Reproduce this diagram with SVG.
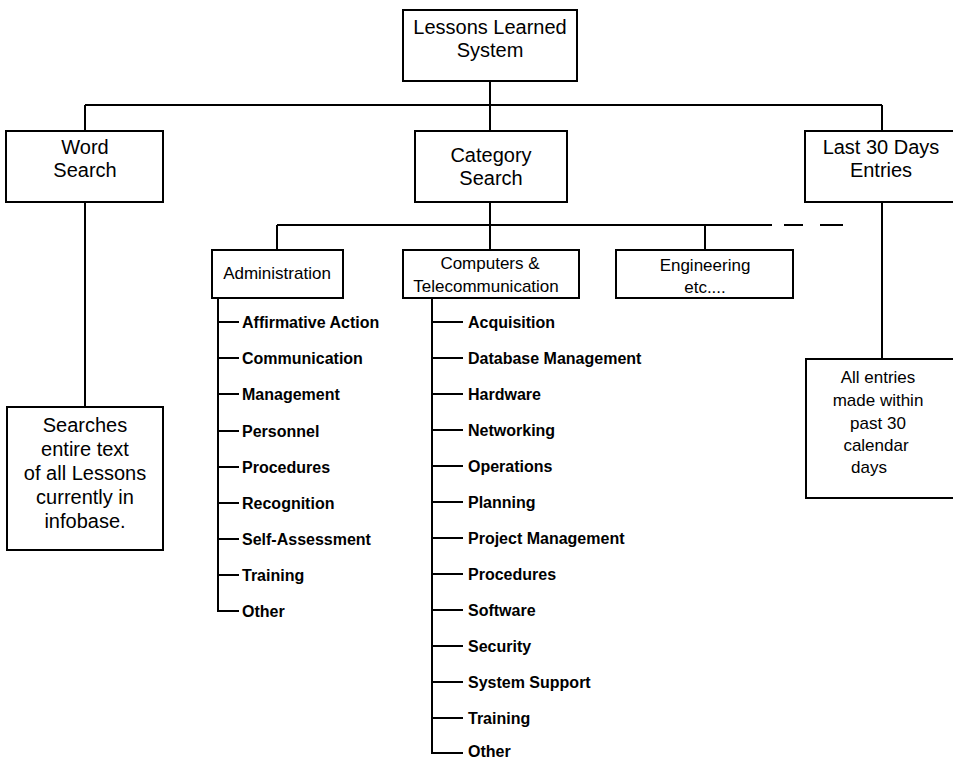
<svg xmlns="http://www.w3.org/2000/svg" width="953" height="761" viewBox="0 0 953 761">
<style>
.box{fill:#fff;stroke:#000;stroke-width:2}
.ln{fill:none;stroke:#000;stroke-width:2}
.t20{font-family:"Liberation Sans",Arial,sans-serif;font-size:20px;text-anchor:middle;fill:#000}
.t17{font-family:"Liberation Sans",Arial,sans-serif;font-size:17px;text-anchor:middle;fill:#000}
.it{font-family:"Liberation Sans",Arial,sans-serif;font-size:16px;font-weight:bold;fill:#000}
</style>
<rect width="953" height="761" fill="#fff"/>
<g id="connectors">
<path class="ln" d="M490 81V131M85 105H882M85 105V131M882 105V131"/>
<path class="ln" d="M85 202V407"/>
<path class="ln" d="M490 202V250M277 225H772M277 225V250M705 225V250"/>
<path class="ln" d="M784 225H803M820 225H843"/>
<path class="ln" d="M882 202V359"/>
<path class="ln" d="M218 298V611H239M218 322H239M218 358H239M218 394H239M218 431H239M218 467H239M218 503H239M218 539H239M218 575H239"/>
<path class="ln" d="M432 298V753H463M432 322H463M432 358H463M432 394H463M432 430H463M432 466H463M432 502H463M432 538H463M432 574H463M432 610H463M432 646H463M432 682H463M432 718H463"/>
</g>
<g id="lessons-learned-system">
<rect class="box" x="403" y="10" width="174" height="71"/>
<text class="t20" x="490" y="34">Lessons Learned</text>
<text class="t20" x="490" y="57">System</text>
</g>
<g id="word-search">
<rect class="box" x="6" y="131" width="157" height="71"/>
<text class="t20" x="85" y="154">Word</text>
<text class="t20" x="85" y="177">Search</text>
</g>
<g id="category-search">
<rect class="box" x="415" y="131" width="152" height="71"/>
<text class="t20" x="491" y="162">Category</text>
<text class="t20" x="491" y="185">Search</text>
</g>
<g id="last-30-days">
<rect class="box" x="805" y="131" width="160" height="71"/>
<text class="t20" x="881" y="154">Last 30 Days</text>
<text class="t20" x="881" y="177">Entries</text>
</g>
<g id="searches-text">
<rect class="box" x="7" y="407" width="156" height="143"/>
<text class="t20" x="85" y="432">Searches</text>
<text class="t20" x="85" y="456">entire text</text>
<text class="t20" x="85" y="480">of all Lessons</text>
<text class="t20" x="85" y="504">currently in</text>
<text class="t20" x="85" y="528">infobase.</text>
</g>
<g id="all-entries">
<rect class="box" x="806" y="359" width="160" height="139"/>
<text class="t17" x="878" y="383">All entries</text>
<text class="t17" x="878" y="406">made within</text>
<text class="t17" x="878" y="429">past 30</text>
<text class="t17" x="876" y="451">calendar</text>
<text class="t17" x="869" y="473">days</text>
</g>
<g id="administration">
<rect class="box" x="212" y="250" width="131" height="48"/>
<text class="t17" x="277" y="279">Administration</text>
<text class="it" x="242" y="328">Affirmative Action</text>
<text class="it" x="242" y="364">Communication</text>
<text class="it" x="242" y="400">Management</text>
<text class="it" x="242" y="437">Personnel</text>
<text class="it" x="242" y="473">Procedures</text>
<text class="it" x="242" y="509">Recognition</text>
<text class="it" x="242" y="545">Self-Assessment</text>
<text class="it" x="242" y="581">Training</text>
<text class="it" x="242" y="617">Other</text>
</g>
<g id="computers">
<rect class="box" x="403" y="250" width="176" height="48"/>
<text class="t17" x="490" y="269">Computers &amp;</text>
<text class="t17" x="486" y="292">Telecommunication</text>
<text class="it" x="468" y="328">Acquisition</text>
<text class="it" x="468" y="364">Database Management</text>
<text class="it" x="468" y="400">Hardware</text>
<text class="it" x="468" y="436">Networking</text>
<text class="it" x="468" y="472">Operations</text>
<text class="it" x="468" y="508">Planning</text>
<text class="it" x="468" y="544">Project Management</text>
<text class="it" x="468" y="580">Procedures</text>
<text class="it" x="468" y="616">Software</text>
<text class="it" x="468" y="652">Security</text>
<text class="it" x="468" y="688">System Support</text>
<text class="it" x="468" y="724">Training</text>
<text class="it" x="468" y="757">Other</text>
</g>
<g id="engineering">
<rect class="box" x="616" y="250" width="177" height="48"/>
<text class="t17" x="705" y="271">Engineering</text>
<text class="t17" x="705" y="293">etc....</text>
</g>
</svg>
